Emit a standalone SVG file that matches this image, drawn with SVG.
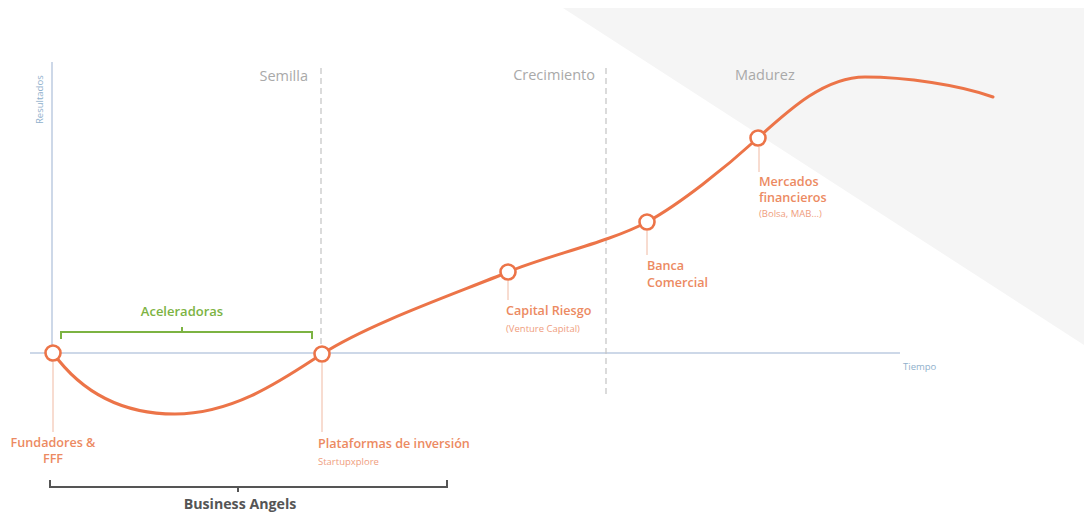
<svg xmlns="http://www.w3.org/2000/svg" width="1084" height="513" viewBox="0 0 1084 513">
  <style>
    text { font-family: "Open Sans", "Lato", "Liberation Sans", sans-serif; }
    .stage { font-size: 14.5px; fill: #a9a9a9; }
    .axis-label { font-size: 9.5px; fill: #8fb0cc; }
    .lbl { font-size: 12.6px; font-weight: 600; fill: #ec8a62; }
    .sub { font-size: 9.5px; fill: #ef9d7e; }
    .dot { fill: #ffffff; stroke: #ec7448; stroke-width: 2.6; }
    .lead { stroke: #f0b9a2; stroke-width: 1; fill: none; }
    .dash { stroke: #c4c4c4; stroke-width: 1.2; stroke-dasharray: 6 4; fill: none; }
  </style>

  <!-- background wedge -->
  <polygon points="563,8 1084,8 1084,345" fill="#f5f5f5"/>

  <!-- axes -->
  <g id="axes">
    <line x1="52" y1="62" x2="52" y2="362" stroke="#bccbe0" stroke-width="1.5"/>
    <line x1="30" y1="353" x2="900" y2="353" stroke="#bccbe0" stroke-width="1.5"/>
    <text class="axis-label" transform="translate(43,124) rotate(-90)">Resultados</text>
    <text class="axis-label" x="903" y="370">Tiempo</text>
  </g>

  <!-- stage separators and titles -->
  <g id="stages">
    <line class="dash" x1="321" y1="68" x2="321" y2="345"/>
    <line class="dash" x1="606" y1="68" x2="606" y2="395"/>
    <text class="stage" x="308" y="81" text-anchor="end">Semilla</text>
    <text class="stage" x="595" y="80" text-anchor="end">Crecimiento</text>
    <text class="stage" x="735" y="80">Madurez</text>
  </g>

  <!-- growth curve -->
  <g id="connectors">
    <path d="M53,353 C80,390 120,414 175,414 C235,414 285,378 322,354 C370,323 460,292 508,272 C546,256 610,242 647,222 C680,204 725,168 758,138 C790,109 825,77 865,77 C905,77 960,85 993,97" fill="none" stroke="#ec7448" stroke-width="3" stroke-linecap="round"/>
    <line class="lead" x1="53" y1="362" x2="53" y2="432"/>
    <line class="lead" x1="322" y1="363" x2="322" y2="432" stroke="#c8c8c8"/>
    <line class="lead" x1="508" y1="281" x2="508" y2="300"/>
    <line class="lead" x1="647" y1="231" x2="647" y2="255"/>
    <line class="lead" x1="759" y1="147" x2="759" y2="172"/>
  </g>

  <!-- Aceleradoras bracket -->
  <g id="aceleradoras">
    <path d="M61,339 V332 H312 V339 M182,332 V327" fill="none" stroke="#7cb342" stroke-width="2"/>
    <text x="182" y="316" text-anchor="middle" font-size="13" font-weight="600" fill="#7cb342">Aceleradoras</text>
  </g>

  <!-- Business Angels bracket -->
  <g id="business-angels">
    <path d="M50,480 V487 H447 V480 M238,487 V492" fill="none" stroke="#555555" stroke-width="2"/>
    <text x="240" y="509" text-anchor="middle" font-size="14.2" font-weight="700" fill="#555555">Business Angels</text>
  </g>

  <!-- milestones -->
  <g id="fundadores">
    <circle class="dot" cx="53" cy="353" r="7.5"/>
    <text class="lbl" x="53" y="447" text-anchor="middle">Fundadores &amp;</text>
    <text class="lbl" x="53" y="463" text-anchor="middle">FFF</text>
  </g>
  <g id="plataformas">
    <circle class="dot" cx="322" cy="354" r="7.5"/>
    <text class="lbl" x="318" y="448">Plataformas de inversión</text>
    <text class="sub" x="318" y="465">Startupxplore</text>
  </g>
  <g id="capital-riesgo">
    <circle class="dot" cx="508" cy="272" r="7.5"/>
    <text class="lbl" x="506" y="315">Capital Riesgo</text>
    <text class="sub" x="506" y="332">(Venture Capital)</text>
  </g>
  <g id="banca">
    <circle class="dot" cx="647" cy="222" r="7.5"/>
    <text class="lbl" x="647" y="270">Banca</text>
    <text class="lbl" x="647" y="287">Comercial</text>
  </g>
  <g id="mercados">
    <circle class="dot" cx="758" cy="138" r="7.5"/>
    <text class="lbl" x="759" y="186">Mercados</text>
    <text class="lbl" x="759" y="202">financieros</text>
    <text class="sub" x="759" y="217">(Bolsa, MAB...)</text>
  </g>
</svg>
